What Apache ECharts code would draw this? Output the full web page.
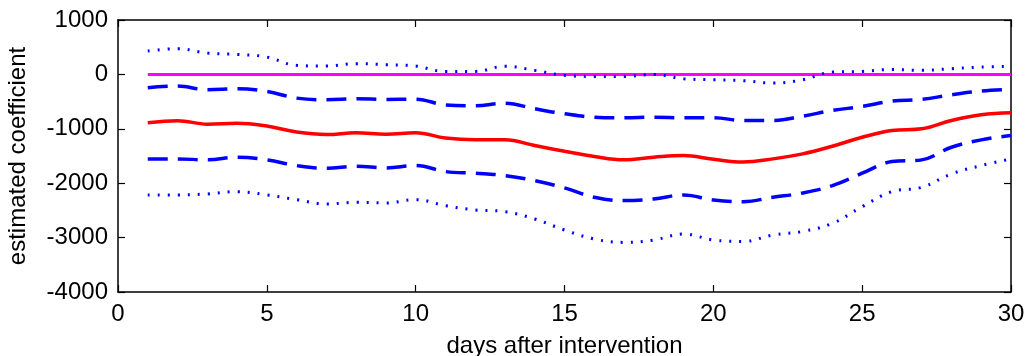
<!DOCTYPE html>
<html><head><meta charset="utf-8">
<script src="https://cdn.jsdelivr.net/npm/echarts@6/dist/echarts.min.js"></script>
<style>html,body{margin:0;padding:0;background:#fff}#c{width:1027px;height:356px}</style>
</head><body><div id="c"></div>
<script>
const days = [1,2,3,4,5,6,7,8,9,10,11,12,13,14,15,16,17,18,19,20,21,22,23,24,25,26,27,28,29,30];
const estimate = [-890,-850,-915,-897,-950,-1060,-1105,-1074,-1100,-1074,-1170,-1203,-1203,-1308,-1412,-1510,-1571,-1523,-1492,-1560,-1610,-1553,-1461,-1320,-1155,-1031,-1000,-847,-742,-706];
const upper95 = [-245,-215,-282,-264,-313,-436,-466,-448,-460,-455,-560,-577,-528,-632,-724,-786,-797,-786,-797,-797,-847,-847,-767,-663,-589,-491,-460,-374,-307,-276];
const lower95 = [-1553,-1553,-1571,-1523,-1571,-1676,-1725,-1688,-1719,-1676,-1786,-1817,-1860,-1952,-2087,-2259,-2320,-2290,-2216,-2308,-2339,-2259,-2179,-2044,-1817,-1602,-1571,-1339,-1203,-1123];
const upper99 = [429,473,392,368,319,166,153,197,179,153,55,55,150,74,-18,-37,-37,0,-80,-98,-115,-160,-98,42,55,92,74,105,134,147];
const lower99 = [-2216,-2216,-2197,-2155,-2216,-2302,-2382,-2351,-2363,-2302,-2413,-2492,-2523,-2658,-2860,-3026,-3088,-3044,-2934,-3044,-3070,-2952,-2886,-2738,-2431,-2155,-2075,-1829,-1676,-1553];
const zeroLine = days.map(() => 0);
const xTicks = [0,5,10,15,20,25,30];
const yTicks = [-4000,-3000,-2000,-1000,0,1000];

const pairs = arr => days.map((d,i)=>[d, arr[i]]);
const font = 'Liberation Sans, Arial, sans-serif';
const axisCommon = {
  axisLine:{show:true,onZero:false,lineStyle:{color:'#000',width:1.5}},
  axisTick:{show:true,inside:true,length:7,lineStyle:{color:'#000',width:1.2}},
  splitLine:{show:false}
};
const chart = echarts.init(document.getElementById('c'), null, {renderer:'canvas'});
chart.setOption({
  animation:false,
  backgroundColor:'#fff',
  grid:{left:118,right:16,top:20,bottom:64,containLabel:false,outerBoundsMode:'none'},
  xAxis:[
    Object.assign({type:'value',min:xTicks[0],max:xTicks[xTicks.length-1],interval:5,position:'bottom',
      name:'days after intervention',nameLocation:'middle',nameGap:42,
      nameTextStyle:{fontFamily:font,fontSize:24,color:'#000'},
      axisLabel:{fontFamily:font,fontSize:24,color:'#000',margin:10,formatter:v=>String(v)}}, axisCommon),
    Object.assign({type:'value',min:0,max:30,interval:5,position:'top',axisLabel:{show:false}}, axisCommon)
  ],
  yAxis:[
    Object.assign({type:'value',min:yTicks[0],max:yTicks[yTicks.length-1],interval:1000,position:'left',
      name:'estimated coefficient',nameLocation:'middle',nameGap:88,nameRotate:90,
      nameTextStyle:{fontFamily:font,fontSize:24,color:'#000'},
      axisLabel:{fontFamily:font,fontSize:24,color:'#000',margin:10,formatter:v=>String(v)}}, axisCommon),
    Object.assign({type:'value',min:-4000,max:1000,interval:1000,position:'right',axisLabel:{show:false}}, axisCommon)
  ],
  series:[
    {type:'line',data:pairs(zeroLine),symbol:'none',lineStyle:{color:'#ff00ff',width:3}},
    {type:'line',data:pairs(upper99),symbol:'none',smooth:0.4,lineStyle:{color:'#0000ff',width:3,type:[2,8]}},
    {type:'line',data:pairs(lower99),symbol:'none',smooth:0.4,lineStyle:{color:'#0000ff',width:3,type:[2,8]}},
    {type:'line',data:pairs(upper95),symbol:'none',smooth:0.4,lineStyle:{color:'#0000ff',width:3.5,type:[20,10]}},
    {type:'line',data:pairs(lower95),symbol:'none',smooth:0.4,lineStyle:{color:'#0000ff',width:3.5,type:[20,10]}},
    {type:'line',data:pairs(estimate),symbol:'none',smooth:0.4,lineStyle:{color:'#ff0000',width:3.5}}
  ]
});
</script></body></html>
